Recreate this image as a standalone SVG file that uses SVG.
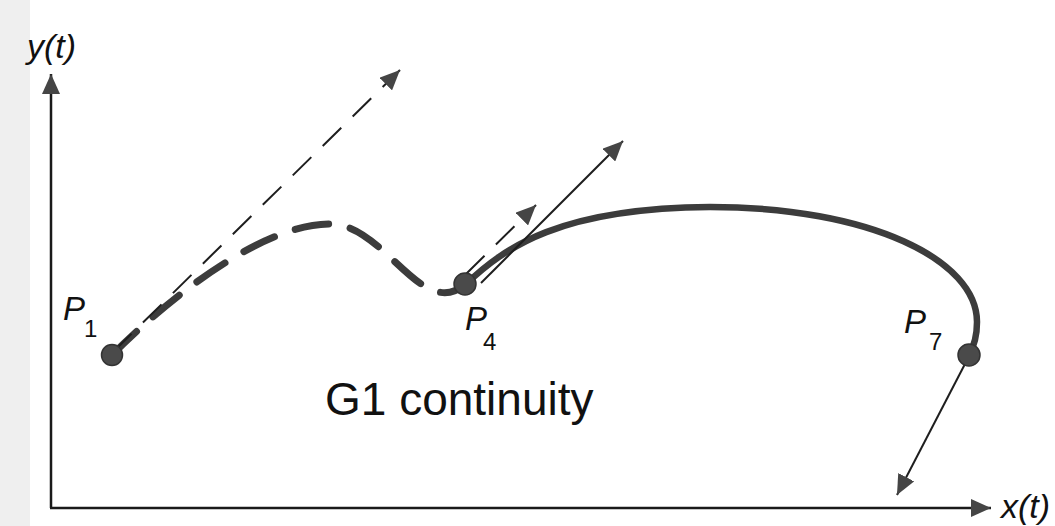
<svg xmlns="http://www.w3.org/2000/svg" width="1055" height="526" viewBox="0 0 1055 526">
  <style>
    .bg { fill: #ffffff; }
    .axis { stroke: #1a1a1a; stroke-width: 2.5; fill: none; }
    .thin { stroke: #1e1e1e; stroke-width: 2; fill: none; }
    .thindash { stroke: #1e1e1e; stroke-width: 2; fill: none; stroke-dasharray: 26 16; }
    .thick { stroke: #3c3c3c; stroke-width: 6.5; fill: none; stroke-linecap: round; }
    .thickdash { stroke: #3c3c3c; stroke-width: 7; fill: none; stroke-linecap: round; stroke-dasharray: 34 22; }
    .dot { fill: #4a4a4a; stroke: #333333; stroke-width: 1.5; }
    .lbl { font-family: "Liberation Sans", Arial, sans-serif; fill: #111111; }
    .it { font-style: italic; }
  </style>
  <defs>
    <marker id="ah" markerUnits="userSpaceOnUse" markerWidth="22" markerHeight="18" refX="20" refY="9" orient="auto">
      <path d="M0,0 L20,9 L0,18 z" fill="#454545"/>
    </marker>
  </defs>
  <rect class="bg" x="0" y="0" width="1055" height="526"/>
  <rect x="0" y="0" width="30" height="526" fill="#efefef"/>

  <g id="axes">
    <line class="axis" x1="51" y1="508" x2="51" y2="74" marker-end="url(#ah)"/>
    <line class="axis" x1="50" y1="508" x2="991" y2="508" marker-end="url(#ah)"/>
    <text class="lbl it" x="27" y="58" font-size="34">y(t)</text>
    <text class="lbl it" x="1001" y="518" font-size="34">x(t)</text>
  </g>

  <g id="connectors">
    <path id="curve-dashed" class="thickdash" d="M112,355 C175,292 265,224 330,224 C385,224 420,320 465,285"/>
    <path id="curve-solid" class="thick" d="M465,285 C505,247 560,208 710,207 C870,207 977,260 977,322 C977,338 973,348 969,355"/>
    <line id="tangent-p1" class="thindash" x1="113" y1="352" x2="400" y2="70" marker-end="url(#ah)"/>
    <line id="tangent-p4-dashed" class="thindash" x1="466" y1="274" x2="536" y2="205" marker-end="url(#ah)"/>
    <line id="tangent-p4-solid" class="thin" x1="481" y1="283" x2="623" y2="141" marker-end="url(#ah)"/>
    <line id="tangent-p7" class="thin" x1="966" y1="362" x2="897" y2="495" marker-end="url(#ah)"/>
  </g>

  <g id="node-p1">
    <circle class="dot" cx="112" cy="355" r="10.5"/>
    <text class="lbl it" x="63" y="320" font-size="33">P</text>
    <text class="lbl" x="84" y="337" font-size="24">1</text>
  </g>
  <g id="node-p4">
    <circle class="dot" cx="465" cy="284" r="11"/>
    <text class="lbl it" x="465" y="330" font-size="33">P</text>
    <text class="lbl" x="483" y="350" font-size="24">4</text>
  </g>
  <g id="node-p7">
    <circle class="dot" cx="969" cy="355" r="11"/>
    <text class="lbl it" x="904" y="333" font-size="33">P</text>
    <text class="lbl" x="929" y="350" font-size="24">7</text>
  </g>

  <g id="caption">
    <text class="lbl" x="325" y="415" font-size="46">G1 continuity</text>
  </g>
</svg>
